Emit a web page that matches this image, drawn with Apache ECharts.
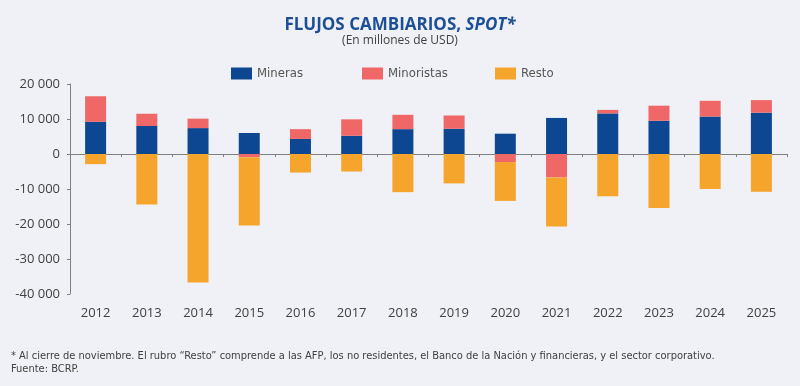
<!DOCTYPE html>
<html>
<head>
<meta charset="utf-8">
<script src="https://cdn.jsdelivr.net/npm/echarts@6/dist/echarts.min.js"></script>
<style>
html,body{margin:0;padding:0;background:#f0f1f6;}
#c{width:800px;height:386px;}
</style>
</head>
<body>
<div id="c"></div>
<script>
const years = ['2012','2013','2014','2015','2016','2017','2018','2019','2020','2021','2022','2023','2024','2025'];
const mineras = [9200, 8000, 7400, 6000, 4300, 5200, 7100, 7200, 5800, 10300, 11600, 9500, 10700, 11800];
const minoristas = [7300, 3500, 2700, -900, 2800, 4700, 4100, 3800, -2300, -6700, 1000, 4300, 4500, 3600];
const resto = [-2900, -14400, -36700, -19500, -5300, -5000, -10900, -8400, -11100, -14000, -12100, -15400, -10000, -10800];
const seriesNames = ['Mineras', 'Minoristas', 'Resto'];
const yTicks = {min: -40000, max: 20000, interval: 10000};

const axisFont = 'Open Sans';
const narrowFont = '"Liberation Sans Narrow", "DejaVu Sans Condensed", sans-serif';
const fmt = v => String(v).replace(/\B(?=(\d{3})+(?!\d))/g, ' ');
const legendLefts = [231, 362, 495];

const chart = echarts.init(document.getElementById('c'), null, {renderer: 'canvas'});
chart.setOption({
  backgroundColor: '#f0f1f6',
  animation: false,
  title: [
    {
      text: 'FLUJOS CAMBIARIOS, {i|SPOT*}',
      left: 'center', top: 12,
      textStyle: {
        fontFamily: 'Open Sans', fontSize: 17, fontWeight: 'bold', color: '#1c4f93',
        rich: {i: {fontFamily: 'Open Sans', fontSize: 17, fontWeight: 'bold', fontStyle: 'italic', color: '#1c4f93'}}
      }
    },
    {
      text: '(En millones de USD)',
      left: 'center', top: 30,
      textStyle: {fontFamily: 'Open Sans', fontSize: 12, fontWeight: 'normal', color: '#404040'}
    },
    {
      text: '* Al cierre de noviembre. El rubro \u201cResto\u201d comprende a las AFP, los no residentes, el Banco de la Naci\u00f3n y financieras, y el sector corporativo.\nFuente: BCRP.',
      left: 6, top: 345,
      textStyle: {fontFamily: narrowFont, fontSize: 11, fontWeight: 'normal', color: '#404040', lineHeight: 12.5}
    }
  ],
  legend: seriesNames.map((n, i) => ({
    left: legendLefts[i], top: 67, padding: 0,
    itemWidth: 21, itemHeight: 12, itemGap: 5,
    icon: 'rect',
    textStyle: {fontFamily: narrowFont, fontSize: 13, color: '#555555'},
    data: [n]
  })),
  grid: {left: 70, right: 13, top: 84, bottom: 92},
  xAxis: [
    {
      type: 'category', data: years, position: 'bottom',
      axisLine: {show: false, onZero: false},
      axisTick: {show: false},
      axisLabel: {margin: 13, fontFamily: axisFont, fontSize: 13, color: '#404040'}
    },
    {
      type: 'category', data: years, position: 'top',
      axisLine: {show: true, onZero: true, lineStyle: {color: '#808080', width: 1}},
      axisTick: {show: true, inside: true, length: 3, lineStyle: {color: '#808080'}},
      axisLabel: {show: false}
    }
  ],
  yAxis: {
    type: 'value', min: yTicks.min, max: yTicks.max, interval: yTicks.interval,
    axisLine: {show: true, lineStyle: {color: '#808080'}},
    axisTick: {show: true, length: 3, lineStyle: {color: '#808080'}},
    splitLine: {show: false},
    axisLabel: {margin: 10, fontFamily: axisFont, fontSize: 13, color: '#404040', formatter: fmt}
  },
  series: [
    {name: seriesNames[0], type: 'bar', stack: 'a', xAxisIndex: 0, barWidth: 21, data: mineras, itemStyle: {color: '#0e4791'}},
    {name: seriesNames[1], type: 'bar', stack: 'a', xAxisIndex: 0, barWidth: 21, data: minoristas, itemStyle: {color: '#ef6767'}},
    {name: seriesNames[2], type: 'bar', stack: 'a', xAxisIndex: 0, barWidth: 21, data: resto, itemStyle: {color: '#f6a52c'}}
  ]
});
</script>
</body>
</html>
